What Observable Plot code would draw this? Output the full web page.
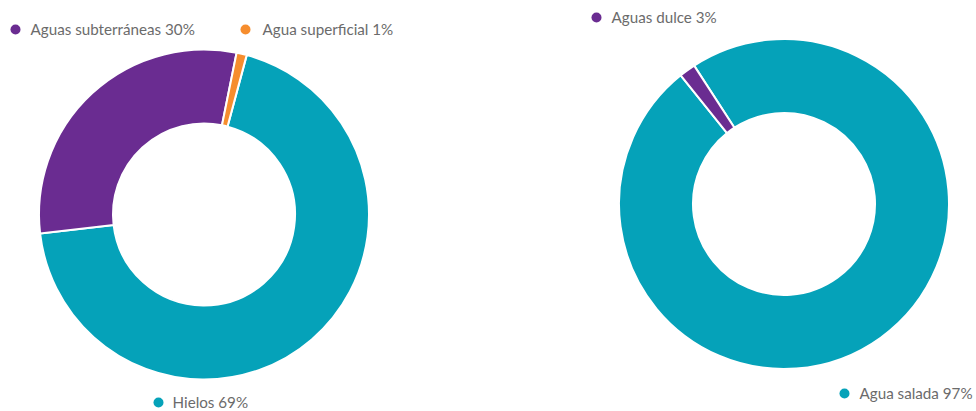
<!DOCTYPE html>
<html><head><meta charset="utf-8">
<script src="https://cdn.jsdelivr.net/npm/d3@7"></script>
<script src="https://cdn.jsdelivr.net/npm/@observablehq/plot@0.6"></script>
<style>
html,body{margin:0;padding:0;background:#fff}
#chart svg{display:block}
</style>
</head><body><div id="chart"></div>
<script>
// ---- data ----
const fuentesCategorias = ["Hielos", "Aguas subterráneas", "Agua superficial"];
const fuentesValores = [69, 30, 1];
const fuentesEtiquetas = ["Hielos 69%", "Aguas subterráneas 30%", "Agua superficial 1%"];

const totalCategorias = ["Agua salada", "Aguas dulce"];
const totalValores = [98.4, 1.6];   // slice sizes as drawn
const totalEtiquetas = ["Agua salada 97%", "Aguas dulce 3%"];

const colorCategorias = ["Hielos", "Aguas subterráneas", "Agua superficial", "Agua salada", "Aguas dulce"];
const colorValores = ["#05a2b9", "#6a2c91", "#f68d2e", "#05a2b9", "#6a2c91"];

// ---- layout ----
const W = 976, H = 411;
const R = 165, r = 91;
const pies = [
  {cats: fuentesCategorias, vals: fuentesValores, cx: 204, cy: 214.5, start: 15,
   legend: [[158, 402, 172], [15, 29, 30], [245, 29, 262]]},
  {cats: totalCategorias, vals: totalValores, cx: 784, cy: 204, start: 327,
   legend: [[844, 393, 859], [596, 17, 611]]}
];
const labels = [fuentesEtiquetas, totalEtiquetas];

const slices = [];
const legendRows = [];
pies.forEach((p, k) => {
  const a0 = p.start * Math.PI / 180;
  const arcs = d3.pie().sort(null).startAngle(a0).endAngle(a0 + 2 * Math.PI)(p.vals);
  arcs.forEach((a, i) => {
    slices.push({cat: p.cats[i], cx: p.cx, cy: p.cy, startAngle: a.startAngle, endAngle: a.endAngle});
    const [dx, dy, tx] = p.legend[i];
    legendRows.push({cat: p.cats[i], label: labels[k][i], dx, dy, tx});
  });
});

const donut = (index, scales, values, dimensions, context) => {
  const g = d3.create("svg:g");
  const arc = d3.arc().innerRadius(r).outerRadius(R);
  g.selectAll("path").data(slices).join("path")
    .attr("transform", d => `translate(${scales.x(d.cx)},${scales.y(d.cy)})`)
    .attr("d", d => arc(d))
    .attr("fill", d => scales.color(d.cat))
    .attr("stroke", "#fff")
    .attr("stroke-width", 2)
    .attr("stroke-linejoin", "round");
  return g.node();
};

const chart = Plot.plot({
  width: W, height: H,
  margin: 0,
  style: {fontFamily: "Lato, sans-serif", background: "#fff", overflow: "visible"},
  x: {domain: [0, W], range: [0, W], axis: null},
  y: {domain: [0, H], range: [0, H], axis: null},
  color: {domain: colorCategorias, range: colorValores},
  marks: [
    donut,
    Plot.dot(legendRows, {x: "dx", y: "dy", r: 5, fill: d => d.cat, stroke: null}),
    Plot.text(legendRows, {x: "tx", y: "dy", text: "label", textAnchor: "start",
      fontSize: 15.2, fill: "#6b6b6b", dy: 0.5})
  ]
});
document.getElementById("chart").append(chart);
</script>
</body></html>
